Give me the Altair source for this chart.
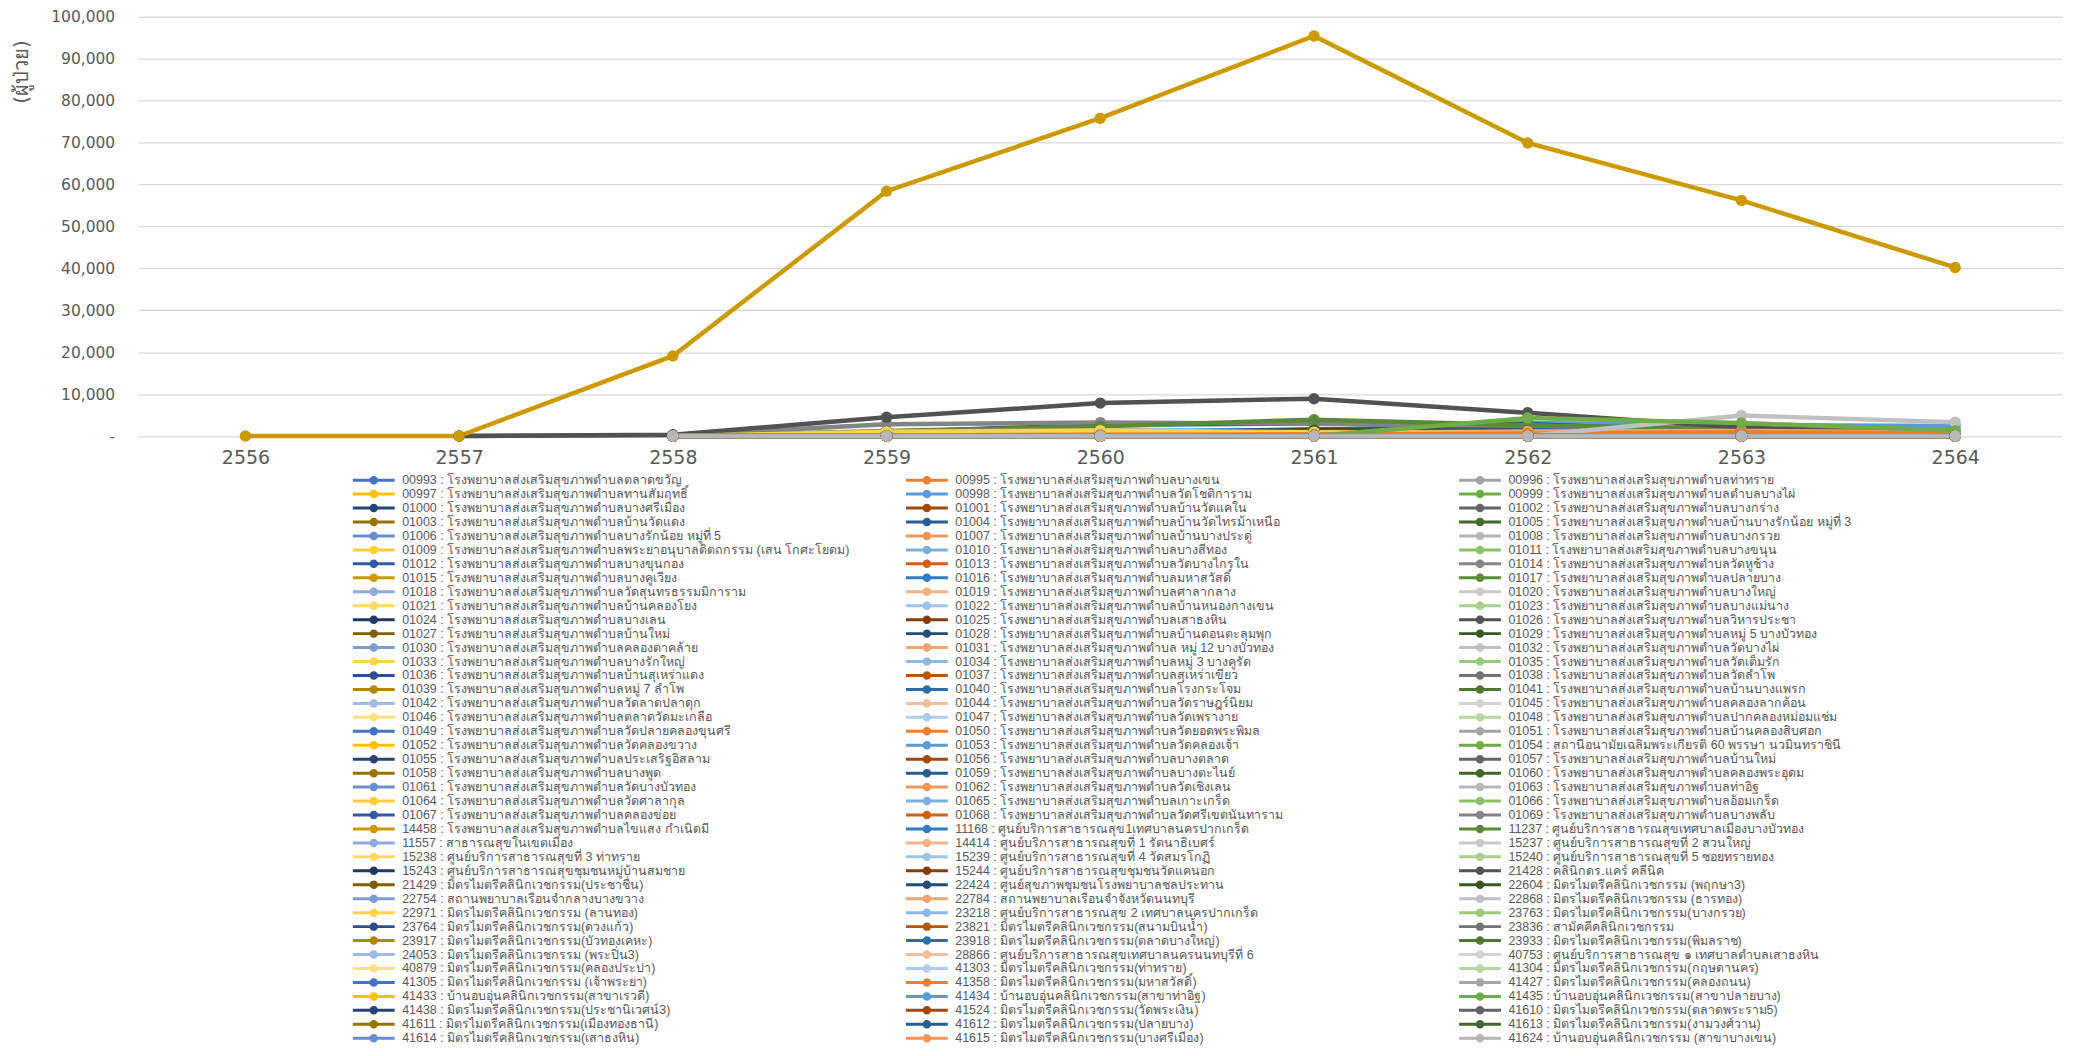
import altair as alt
import pandas as pd

YEARS = ["2556", "2557", "2558", "2559", "2560", "2561", "2562", "2563", "2564"]

COL1_CODES = ["00993", "00997", "01000", "01003", "01006", "01009", "01012", "01015", "01018", "01021",
              "01024", "01027", "01030", "01033", "01036", "01039", "01042", "01046", "01049", "01052",
              "01055", "01058", "01061", "01064", "01067", "14458", "11557", "15238", "15243", "21429",
              "22754", "22971", "23764", "23917", "24053", "40879", "41305", "41433", "41438", "41611", "41614"]
COL1_NAMES = [
    "โรงพยาบาลส่งเสริมสุขภาพตำบลตลาดขวัญ",
    "โรงพยาบาลส่งเสริมสุขภาพตำบลทานสัมฤทธิ์",
    "โรงพยาบาลส่งเสริมสุขภาพตำบลบางศรีเมือง",
    "โรงพยาบาลส่งเสริมสุขภาพตำบลบ้านวัดแดง",
    "โรงพยาบาลส่งเสริมสุขภาพตำบลบางรักน้อย หมู่ที่ 5",
    "โรงพยาบาลส่งเสริมสุขภาพตำบลพระยาอนุบาลดิตถกรรม (เสน โกศะโยดม)",
    "โรงพยาบาลส่งเสริมสุขภาพตำบลบางขุนกอง",
    "โรงพยาบาลส่งเสริมสุขภาพตำบลบางคูเวียง",
    "โรงพยาบาลส่งเสริมสุขภาพตำบลวัดสุนทรธรรมมิการาม",
    "โรงพยาบาลส่งเสริมสุขภาพตำบลบ้านคลองโยง",
    "โรงพยาบาลส่งเสริมสุขภาพตำบลบางเลน",
    "โรงพยาบาลส่งเสริมสุขภาพตำบลบ้านใหม่",
    "โรงพยาบาลส่งเสริมสุขภาพตำบลคลองตาคล้าย",
    "โรงพยาบาลส่งเสริมสุขภาพตำบลบางรักใหญ่",
    "โรงพยาบาลส่งเสริมสุขภาพตำบลบ้านสุเหร่าแดง",
    "โรงพยาบาลส่งเสริมสุขภาพตำบลหมู่ 7 ลำโพ",
    "โรงพยาบาลส่งเสริมสุขภาพตำบลวัดลาดปลาดุก",
    "โรงพยาบาลส่งเสริมสุขภาพตำบลตลาดวัดมะเกลือ",
    "โรงพยาบาลส่งเสริมสุขภาพตำบลวัดปลายคลองขุนศรี",
    "โรงพยาบาลส่งเสริมสุขภาพตำบลวัดคลองขวาง",
    "โรงพยาบาลส่งเสริมสุขภาพตำบลประเสริฐอิสลาม",
    "โรงพยาบาลส่งเสริมสุขภาพตำบลบางพูด",
    "โรงพยาบาลส่งเสริมสุขภาพตำบลวัดบางบัวทอง",
    "โรงพยาบาลส่งเสริมสุขภาพตำบลวัดศาลากุล",
    "โรงพยาบาลส่งเสริมสุขภาพตำบลคลองข่อย",
    "โรงพยาบาลส่งเสริมสุขภาพตำบลไขแสง กำเนิดมี",
    "สาธารณสุขในเขตเมือง",
    "ศูนย์บริการสาธารณสุขที่ 3 ท่าทราย",
    "ศูนย์บริการสาธารณสุขชุมชนหมู่บ้านสมชาย",
    "มิตรไมตรีคลินิกเวชกรรม(ประชาชื่น)",
    "สถานพยาบาลเรือนจำกลางบางขวาง",
    "มิตรไมตรีคลินิกเวชกรรม (ลานทอง)",
    "มิตรไมตรีคลินิกเวชกรรม(ดวงแก้ว)",
    "มิตรไมตรีคลินิกเวชกรรม(บัวทองเคหะ)",
    "มิตรไมตรีคลินิกเวชกรรม (พระปิ่น3)",
    "มิตรไมตรีคลินิกเวชกรรม(คลองประปา)",
    "มิตรไมตรีคลินิกเวชกรรม (เจ้าพระยา)",
    "บ้านอบอุ่นคลินิกเวชกรรม(สาขาเรวดี)",
    "มิตรไมตรีคลินิกเวชกรรม(ประชานิเวศน์3)",
    "มิตรไมตรีคลินิกเวชกรรม(เมืองทองธานี)",
    "มิตรไมตรีคลินิกเวชกรรม(เสาธงหิน)",
]

COL2_CODES = ["00995", "00998", "01001", "01004", "01007", "01010", "01013", "01016", "01019", "01022",
              "01025", "01028", "01031", "01034", "01037", "01040", "01044", "01047", "01050", "01053",
              "01056", "01059", "01062", "01065", "01068", "11168", "14414", "15239", "15244", "22424",
              "22784", "23218", "23821", "23918", "28866", "41303", "41358", "41434", "41524", "41612", "41615"]
COL2_NAMES = [
    "โรงพยาบาลส่งเสริมสุขภาพตำบลบางเขน",
    "โรงพยาบาลส่งเสริมสุขภาพตำบลวัดโชติการาม",
    "โรงพยาบาลส่งเสริมสุขภาพตำบลบ้านวัดแคใน",
    "โรงพยาบาลส่งเสริมสุขภาพตำบลบ้านวัดไทรม้าเหนือ",
    "โรงพยาบาลส่งเสริมสุขภาพตำบลบ้านบางประดู่",
    "โรงพยาบาลส่งเสริมสุขภาพตำบลบางสีทอง",
    "โรงพยาบาลส่งเสริมสุขภาพตำบลวัดบางไกรใน",
    "โรงพยาบาลส่งเสริมสุขภาพตำบลมหาสวัสดิ์",
    "โรงพยาบาลส่งเสริมสุขภาพตำบลศาลากลาง",
    "โรงพยาบาลส่งเสริมสุขภาพตำบลบ้านหนองกางเขน",
    "โรงพยาบาลส่งเสริมสุขภาพตำบลเสาธงหิน",
    "โรงพยาบาลส่งเสริมสุขภาพตำบลบ้านดอนตะลุมพุก",
    "โรงพยาบาลส่งเสริมสุขภาพตำบล หมู่ 12 บางบัวทอง",
    "โรงพยาบาลส่งเสริมสุขภาพตำบลหมู่ 3 บางคูรัด",
    "โรงพยาบาลส่งเสริมสุขภาพตำบลสุเหร่าเขียว",
    "โรงพยาบาลส่งเสริมสุขภาพตำบลโรงกระโจม",
    "โรงพยาบาลส่งเสริมสุขภาพตำบลวัดราษฎร์นิยม",
    "โรงพยาบาลส่งเสริมสุขภาพตำบลวัดเพรางาย",
    "โรงพยาบาลส่งเสริมสุขภาพตำบลวัดยอดพระพิมล",
    "โรงพยาบาลส่งเสริมสุขภาพตำบลวัดคลองเจ้า",
    "โรงพยาบาลส่งเสริมสุขภาพตำบลบางตลาด",
    "โรงพยาบาลส่งเสริมสุขภาพตำบลบางตะไนย์",
    "โรงพยาบาลส่งเสริมสุขภาพตำบลวัดเชิงเลน",
    "โรงพยาบาลส่งเสริมสุขภาพตำบลเกาะเกร็ด",
    "โรงพยาบาลส่งเสริมสุขภาพตำบลวัดศรีเขตนันทาราม",
    "ศูนย์บริการสาธารณสุข1เทศบาลนครปากเกร็ด",
    "ศูนย์บริการสาธารณสุขที่ 1 รัตนาธิเบศร์",
    "ศูนย์บริการสาธารณสุขที่ 4 วัดสมรโกฏิ",
    "ศูนย์บริการสาธารณสุขชุมชนวัดแคนอก",
    "ศูนย์สุขภาพชุมชนโรงพยาบาลชลประทาน",
    "สถานพยาบาลเรือนจำจังหวัดนนทบุรี",
    "ศูนย์บริการสาธารณสุข 2 เทศบาลนครปากเกร็ด",
    "มิตรไมตรีคลินิกเวชกรรม(สนามบินน้ำ)",
    "มิตรไมตรีคลินิกเวชกรรม(ตลาดบางใหญ่)",
    "ศูนย์บริการสาธารณสุขเทศบาลนครนนทบุรีที่ 6",
    "มิตรไมตรีคลินิกเวชกรรม(ท่าทราย)",
    "มิตรไมตรีคลินิกเวชกรรม(มหาสวัสดิ์)",
    "บ้านอบอุ่นคลินิกเวชกรรม(สาขาท่าอิฐ)",
    "มิตรไมตรีคลินิกเวชกรรม(วัดพระเงิน)",
    "มิตรไมตรีคลินิกเวชกรรม(ปลายบาง)",
    "มิตรไมตรีคลินิกเวชกรรม(บางศรีเมือง)",
]

COL3_CODES = ["00996", "00999", "01002", "01005", "01008", "01011", "01014", "01017", "01020", "01023",
              "01026", "01029", "01032", "01035", "01038", "01041", "01045", "01048", "01051", "01054",
              "01057", "01060", "01063", "01066", "01069", "11237", "15237", "15240", "21428", "22604",
              "22868", "23763", "23836", "23933", "40753", "41304", "41427", "41435", "41610", "41613", "41624"]
COL3_NAMES = [
    "โรงพยาบาลส่งเสริมสุขภาพตำบลท่าทราย",
    "โรงพยาบาลส่งเสริมสุขภาพตำบลตำบลบางไผ่",
    "โรงพยาบาลส่งเสริมสุขภาพตำบลบางกร่าง",
    "โรงพยาบาลส่งเสริมสุขภาพตำบลบ้านบางรักน้อย หมู่ที่ 3",
    "โรงพยาบาลส่งเสริมสุขภาพตำบลบางกรวย",
    "โรงพยาบาลส่งเสริมสุขภาพตำบลบางขนุน",
    "โรงพยาบาลส่งเสริมสุขภาพตำบลวัดหูช้าง",
    "โรงพยาบาลส่งเสริมสุขภาพตำบลปลายบาง",
    "โรงพยาบาลส่งเสริมสุขภาพตำบลบางใหญ่",
    "โรงพยาบาลส่งเสริมสุขภาพตำบลบางแม่นาง",
    "โรงพยาบาลส่งเสริมสุขภาพตำบลวิหารประชา",
    "โรงพยาบาลส่งเสริมสุขภาพตำบลหมู่ 5 บางบัวทอง",
    "โรงพยาบาลส่งเสริมสุขภาพตำบลวัดบางไผ่",
    "โรงพยาบาลส่งเสริมสุขภาพตำบลวัดเต็มรัก",
    "โรงพยาบาลส่งเสริมสุขภาพตำบลวัดลำโพ",
    "โรงพยาบาลส่งเสริมสุขภาพตำบลบ้านบางแพรก",
    "โรงพยาบาลส่งเสริมสุขภาพตำบลคลองลากค้อน",
    "โรงพยาบาลส่งเสริมสุขภาพตำบลปากคลองหม่อมแช่ม",
    "โรงพยาบาลส่งเสริมสุขภาพตำบลบ้านคลองสิบศอก",
    "สถานีอนามัยเฉลิมพระเกียรติ 60 พรรษา นวมินทราชินี",
    "โรงพยาบาลส่งเสริมสุขภาพตำบลบ้านใหม่",
    "โรงพยาบาลส่งเสริมสุขภาพตำบลคลองพระอุดม",
    "โรงพยาบาลส่งเสริมสุขภาพตำบลท่าอิฐ",
    "โรงพยาบาลส่งเสริมสุขภาพตำบลอ้อมเกร็ด",
    "โรงพยาบาลส่งเสริมสุขภาพตำบลบางพลับ",
    "ศูนย์บริการสาธารณสุขเทศบาลเมืองบางบัวทอง",
    "ศูนย์บริการสาธารณสุขที่ 2 สวนใหญ่",
    "ศูนย์บริการสาธารณสุขที่ 5 ซอยทรายทอง",
    "คลินิกดร.แคร์ คลีนิค",
    "มิตรไมตรีคลินิกเวชกรรม (พฤกษา3)",
    "มิตรไมตรีคลินิกเวชกรรม (ธารทอง)",
    "มิตรไมตรีคลินิกเวชกรรม(บางกรวย)",
    "สามัคคีคลินิกเวชกรรม",
    "มิตรไมตรีคลินิกเวชกรรม(พิมลราช)",
    "ศูนย์บริการสาธารณสุข ๑ เทศบาลตำบลเสาธงหิน",
    "มิตรไมตรีคลินิกเวชกรรม(กฤษดานคร)",
    "มิตรไมตรีคลินิกเวชกรรม(คลองถนน)",
    "บ้านอบอุ่นคลินิกเวชกรรม(สาขาปลายบาง)",
    "มิตรไมตรีคลินิกเวชกรรม(ตลาดพระราม5)",
    "มิตรไมตรีคลินิกเวชกรรม(งามวงศ์วาน)",
    "บ้านอบอุ่นคลินิกเวชกรรม (สาขาบางเขน)",
]

# values per series, years 2556..2564 (None = no value)
ZERO = [None, None, 0, 0, 0, 0, 0, 0, 0]
VALUES = {
    "01015": [0, 0, 19100, 58400, 75800, 95400, 69900, 56200, 40200],
    "01026": [None, 0, 300, 4500, 7850, 8900, 5550, 2000, 900],
    "01014": [None, 0, 200, 2800, 3200, 2900, 2500, 1200, 600],
    "22868": [None, None, None, None, None, None, 0, 4900, 3300],
    "41435": [None, None, None, None, None, 0, 4300, 3100, 1300],
    "01017": [None, None, 0, 1200, 2300, 3900, 2600, 1600, 900],
    "01000": [None, None, 0, 900, 2700, 3000, 2800, 1000, 700],
    "00998": [None, None, 0, 400, 1200, 1400, 3100, 2600, 2400],
    "01033": [None, None, 0, 1000, 1300, 900, 600, 400, 300],
    "01031": [None, None, 0, 600, 900, 700, 1100, 1200, 900],
    "01010": [None, None, 0, 300, 1500, 1200, 1000, 800, 500],
    "01012": [None, None, 0, 200, 800, 1600, 1900, 1500, 1100],
    "01050": [None, None, 0, 100, 300, 400, 600, 900, 700],
    "01029": [None, None, 0, 200, 700, 1400, 1200, 800, 600],
}

# Office default series colour cycle (6 accents x 9 shades)
PALETTE = [
    ["#4472C4", "#ED7D31", "#A5A5A5", "#FFC000", "#5B9BD5", "#70AD47"],
    ["#264478", "#9E480E", "#636363", "#997300", "#255E91", "#43682B"],
    ["#698ED0", "#F1975A", "#B7B7B7", "#FFCD33", "#7CAFDD", "#8CC168"],
    ["#335AA1", "#D26012", "#848484", "#CC9A00", "#327DC2", "#5A8A39"],
    ["#8FAADC", "#F4B183", "#C9C9C9", "#FFD966", "#9DC3E6", "#A9D18E"],
    ["#203864", "#843C0C", "#525252", "#7F6000", "#1F4E79", "#385723"],
    ["#7C9CD6", "#F2A46F", "#C0C0C0", "#FFD34D", "#8CB9E2", "#9AC97B"],
    ["#2C4F8D", "#B85410", "#737373", "#B38600", "#2B6EA9", "#4E7932"],
    ["#A2B9E2", "#F6BE98", "#D2D2D2", "#FFE080", "#ADCDEA", "#B7D8A1"],
]

codes, labels = [], []
for r in range(len(COL1_CODES)):
    for cc, nn in ((COL1_CODES, COL1_NAMES), (COL2_CODES, COL2_NAMES), (COL3_CODES, COL3_NAMES)):
        codes.append(cc[r])
        labels.append(f"{cc[r]} : {nn[r]}")
colors = [PALETTE[(i // 6) % 9][i % 6] for i in range(len(codes))]

TOP = "01015"
order = [c for c in codes if c != TOP] + [TOP]
rows = []
for code in order:
    lab = labels[codes.index(code)]
    for yr, v in zip(YEARS, VALUES.get(code, ZERO)):
        if v is not None:
            rows.append({"year": yr, "value": v, "series": lab})
df = pd.DataFrame(rows)

# legend glyph: short line with a dot, drawn wider than the nominal symbol box
SYMBOL = "M-1,0L7.4,0M3.75,0A0.55,0.55,0,1,1,2.65,0A0.55,0.55,0,1,1,3.75,0Z"
GREY = "#595959"

chart = alt.Chart(df).mark_line(
    strokeWidth=4.5,
    point=alt.OverlayMarkDef(filled=True, size=130, opacity=1),
).encode(
    x=alt.X("year:O", sort=YEARS, scale=alt.Scale(domain=YEARS),
            axis=alt.Axis(title=None, labelAngle=0, domain=False, ticks=False, grid=False,
                          labelFont="DejaVu Sans", labelFontSize=19, labelColor=GREY,
                          labelPadding=13)),
    y=alt.Y("value:Q", scale=alt.Scale(domain=[0, 100000], nice=False),
            axis=alt.Axis(values=[0, 10000, 20000, 30000, 40000, 50000, 60000, 70000, 80000, 90000, 100000],
                          labelExpr="datum.value == 0 ? '-\u00a0\u00a0' : format(datum.value, ',')",
                          domain=False, ticks=False, gridColor="#D9D9D9", gridWidth=1.3,
                          labelFont="DejaVu Sans", labelFontSize=15.5, labelColor=GREY,
                          labelPadding=24,
                          title="(ผู้ป่วย)", titleFont="DejaVu Sans", titleFontSize=20,
                          titleFontWeight="normal", titleColor=GREY,
                          titleX=-117, titleY=55, titleAngle=270,
                          titleAlign="center", titleBaseline="middle")),
    color=alt.Color("series:N", scale=alt.Scale(domain=labels, range=colors),
                    legend=alt.Legend(title=None, orient="none", legendX=213.5, legendY=458,
                                      direction="horizontal",
                                      columns=3, gridAlign="all", columnPadding=55,
                                      rowPadding=0, padding=0, clipHeight=13.95,
                                      symbolType=SYMBOL, symbolSize=100, symbolStrokeWidth=3,
                                      labelFont="Liberation Sans", labelFontSize=12.5,
                                      labelColor=GREY, labelOffset=38, labelLimit=2000,
                                      symbolLimit=200)),
).properties(
    width=1930,
    height=420.7,
    autosize=alt.AutoSizeParams(type="none"),
    padding={"left": 131, "top": 7, "right": 10, "bottom": 620},
).configure_view(stroke=None)

chart.save("out.html", embed_options={"renderer": "svg", "actions": False})
